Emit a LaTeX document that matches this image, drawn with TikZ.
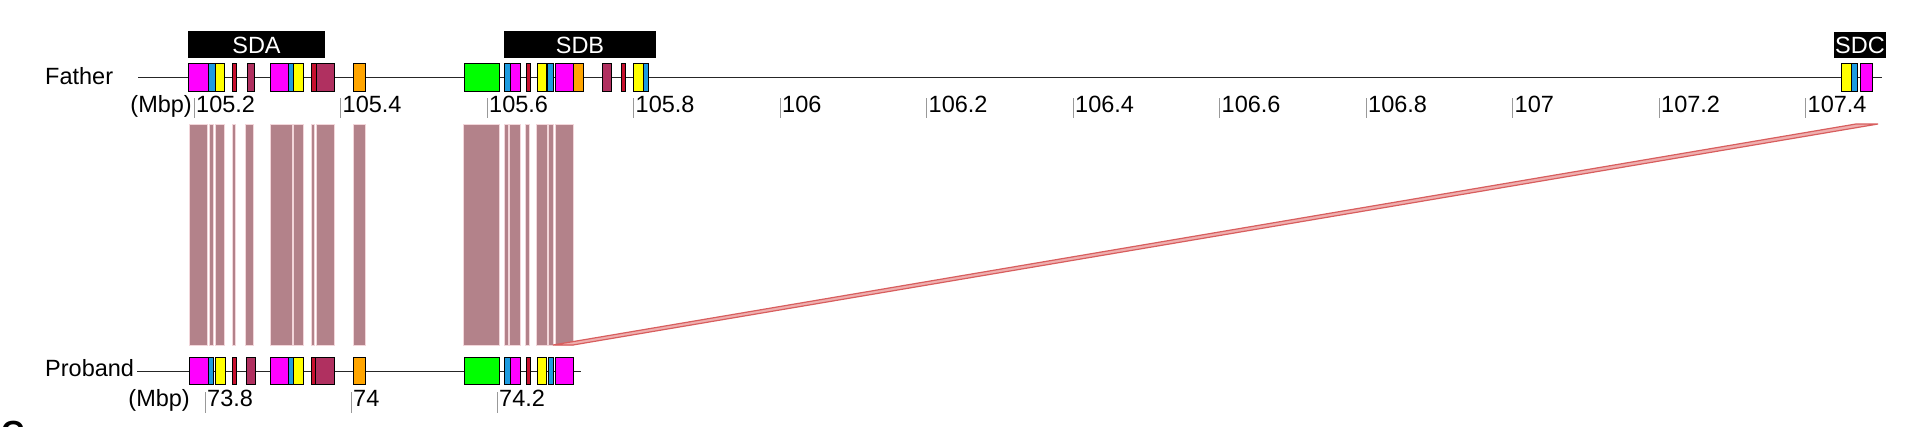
\documentclass[tikz,border=0pt]{standalone}
\usepackage{fontspec}
\setmainfont{Liberation Sans}
\definecolor{cmag}{HTML}{FF00FF}
\definecolor{cblu}{HTML}{1C9BE0}
\definecolor{cyel}{HTML}{FFFF00}
\definecolor{cred}{HTML}{C8102E}
\definecolor{cmar}{HTML}{B03060}
\definecolor{cora}{HTML}{FFA500}
\definecolor{cgrn}{HTML}{00FF00}
\definecolor{bandc}{HTML}{B3828A}
\definecolor{bandedge}{HTML}{F2D6DA}
\definecolor{tickc}{HTML}{999999}
\definecolor{diagfill}{HTML}{EFB0B0}
\definecolor{diagedge}{HTML}{D85E5E}
\begin{document}
\begin{tikzpicture}[x=1pt,y=-1pt,
  chrom/.style={draw=black!85,line width=0.8pt},
  gbox/.style={draw=black,line width=0.9pt},
  bandst/.style={fill=bandc,draw=bandedge,line width=0.4pt},
  lab/.style={font=\fontsize{23.5}{24}\selectfont,inner sep=0pt},
  tickst/.style={draw=tickc,line width=0.8pt},
  sdbar/.style={fill=black},
  sdlab/.style={font=\fontsize{23.5}{24}\selectfont,text=white,inner sep=0pt},
  diag/.style={fill=diagfill,draw=diagedge,line width=1.2pt}]
\useasboundingbox (0,0) rectangle (1920,426);
\fill[white] (0,0) rectangle (1920,426);

% labels
\node[lab,anchor=base west] (father) at (45,84) {Father};
\node[lab,anchor=base west] (proband) at (45,376) {Proband};

% chromosome lines
\coordinate (fL) at (138,77);
\coordinate (fR) at (1882,77);
\draw[chrom] (fL) -- (fR);
\coordinate (pL) at (137,371);
\coordinate (pR) at (581,371);
\draw[chrom] (pL) -- (pR);

% segmental duplication bars
\fill[sdbar] (188,31) rectangle (325,58);
\node[sdlab] (sda) at (256.5,45) {SDA};
\fill[sdbar] (504,31) rectangle (656,58);
\node[sdlab] (sdb) at (580,45) {SDB};
\fill[sdbar] (1834,32) rectangle (1886,58);
\node[sdlab] (sdc) at (1860,45.5) {SDC};

% alignment bands
\foreach \a/\b in {189/207,209/213,215/224,232/235,245/253,270/292,293/303,311/314,316/334,353/365,463/499,504/508,509/520,525/529,536/547,548/553,555/573}
  \path[bandst] (\a,124) rectangle (\b,345);

% diagonal alignment to SDC
\coordinate (d1) at (553,345);
\coordinate (d2) at (573,345);
\coordinate (d3) at (1878,124);
\coordinate (d4) at (1856,124);
\path[diag] (d1) -- (d2) -- (d3) -- (d4) -- cycle;

% father boxes
\foreach \c/\a/\b in {cmag/188/208,cblu/208/215,cyel/215/224,cred/232/236,cmar/247/254,cmag/270/288,cblu/288/293,cyel/293/303,cred/311/316,cmar/316/334,cora/353/365,cgrn/464/499,cblu/504/510,cmag/510/520,cred/526/530,cyel/537/546,cblu/547/553,cmag/555/573,cora/573/583,cmar/602/611,cred/621/625,cyel/633/643,cblu/643/648,cyel/1841/1851,cblu/1851/1857,cmag/1860/1872}
  \path[gbox,fill=\c] (\a,63) rectangle (\b,91);

% proband boxes
\foreach \c/\a/\b in {cmag/189/208,cblu/208/213,cyel/215/225,cred/232/236,cmar/246/255,cmag/270/288,cblu/288/293,cyel/293/303,cred/311/315,cmar/315/334,cora/353/365,cgrn/464/499,cblu/504/510,cmag/510/520,cred/526/530,cyel/537/546,cblu/548/553,cmag/555/573}
  \path[gbox,fill=\c] (\a,357) rectangle (\b,384);

% father axis
\node[lab,anchor=base east] (fmbp) at (192,112) {(Mbp)};
\foreach \v [count=\i from 0] in {105.2,105.4,105.6,105.8,106,106.2,106.4,106.6,106.8,107,107.2,107.4}{
  \pgfmathsetmacro{\tx}{194+\i*146.5}
  \draw[tickst] (\tx,98) -- (\tx,118);
  \node[lab,anchor=base west] (ft\i) at (\tx+2,112) {\v};
}

% proband axis
\node[lab,anchor=base east] (pmbp) at (190,406) {(Mbp)};
\foreach \v/\tx [count=\i from 0] in {73.8/205,74/351,74.2/497}{
  \draw[tickst] (\tx,392) -- (\tx,413);
  \node[lab,anchor=base west] (pt\i) at (\tx+2,406) {\v};
}

% cropped panel letter
\node[font=\bfseries\fontsize{32}{32}\selectfont,anchor=north west,inner sep=0pt] (panel) at (1,421) {C};
\end{tikzpicture}
\end{document}
